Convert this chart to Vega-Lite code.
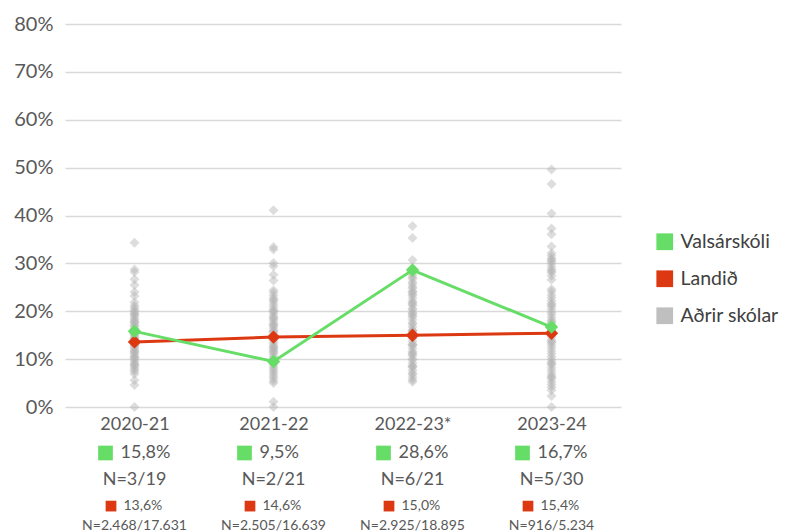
{
  "$schema": "https://vega.github.io/schema/vega-lite/v6.json",
  "padding": {"left": 13, "top": 14, "right": 5, "bottom": 0},
  "background": "white",
  "config": {
    "view": {"stroke": null},
    "font": "Lato",
    "concat": {"spacing": 11}
  },
  "datasets": {
    "schools": [
      {"year": "2020-21", "value": 34.3}, {"year": "2020-21", "value": 28.7}, {"year": "2020-21", "value": 28.2}, {"year": "2020-21", "value": 26.7}, {"year": "2020-21", "value": 25.5}, {"year": "2020-21", "value": 24.0}, {"year": "2020-21", "value": 23.2}, {"year": "2020-21", "value": 21.9}, {"year": "2020-21", "value": 21.2}, {"year": "2020-21", "value": 20.8}, {"year": "2020-21", "value": 20.3}, {"year": "2020-21", "value": 20.0}, {"year": "2020-21", "value": 19.6}, {"year": "2020-21", "value": 19.1}, {"year": "2020-21", "value": 18.7}, {"year": "2020-21", "value": 18.3}, {"year": "2020-21", "value": 17.9}, {"year": "2020-21", "value": 17.5}, {"year": "2020-21", "value": 17.1}, {"year": "2020-21", "value": 16.8}, {"year": "2020-21", "value": 16.4}, {"year": "2020-21", "value": 16.0}, {"year": "2020-21", "value": 15.6}, {"year": "2020-21", "value": 15.2}, {"year": "2020-21", "value": 14.9}, {"year": "2020-21", "value": 14.5}, {"year": "2020-21", "value": 14.1}, {"year": "2020-21", "value": 13.7}, {"year": "2020-21", "value": 13.3}, {"year": "2020-21", "value": 13.0}, {"year": "2020-21", "value": 12.6}, {"year": "2020-21", "value": 12.2}, {"year": "2020-21", "value": 11.8}, {"year": "2020-21", "value": 11.4}, {"year": "2020-21", "value": 11.0}, {"year": "2020-21", "value": 10.6}, {"year": "2020-21", "value": 10.2}, {"year": "2020-21", "value": 9.8}, {"year": "2020-21", "value": 9.4}, {"year": "2020-21", "value": 9.0}, {"year": "2020-21", "value": 8.6}, {"year": "2020-21", "value": 8.2}, {"year": "2020-21", "value": 7.8}, {"year": "2020-21", "value": 7.4}, {"year": "2020-21", "value": 6.9}, {"year": "2020-21", "value": 5.6}, {"year": "2020-21", "value": 4.6}, {"year": "2020-21", "value": 0.0}, {"year": "2020-21", "value": 15.3}, {"year": "2020-21", "value": 12.9}, {"year": "2020-21", "value": 17.7}, {"year": "2020-21", "value": 10.4}, {"year": "2020-21", "value": 19.4}, {"year": "2020-21", "value": 13.5}, {"year": "2020-21", "value": 16.2}, {"year": "2020-21", "value": 11.6}, {"year": "2020-21", "value": 8.8}, {"year": "2020-21", "value": 14.3},
      {"year": "2021-22", "value": 41.1}, {"year": "2021-22", "value": 33.4}, {"year": "2021-22", "value": 32.9}, {"year": "2021-22", "value": 30.1}, {"year": "2021-22", "value": 29.4}, {"year": "2021-22", "value": 27.6}, {"year": "2021-22", "value": 26.4}, {"year": "2021-22", "value": 24.4}, {"year": "2021-22", "value": 23.9}, {"year": "2021-22", "value": 23.3}, {"year": "2021-22", "value": 22.7}, {"year": "2021-22", "value": 22.1}, {"year": "2021-22", "value": 21.5}, {"year": "2021-22", "value": 21.0}, {"year": "2021-22", "value": 20.4}, {"year": "2021-22", "value": 19.9}, {"year": "2021-22", "value": 19.4}, {"year": "2021-22", "value": 18.9}, {"year": "2021-22", "value": 18.4}, {"year": "2021-22", "value": 17.9}, {"year": "2021-22", "value": 17.4}, {"year": "2021-22", "value": 16.9}, {"year": "2021-22", "value": 16.5}, {"year": "2021-22", "value": 16.0}, {"year": "2021-22", "value": 15.5}, {"year": "2021-22", "value": 15.0}, {"year": "2021-22", "value": 14.6}, {"year": "2021-22", "value": 14.1}, {"year": "2021-22", "value": 13.7}, {"year": "2021-22", "value": 13.2}, {"year": "2021-22", "value": 12.8}, {"year": "2021-22", "value": 12.3}, {"year": "2021-22", "value": 11.9}, {"year": "2021-22", "value": 11.4}, {"year": "2021-22", "value": 11.0}, {"year": "2021-22", "value": 10.5}, {"year": "2021-22", "value": 10.1}, {"year": "2021-22", "value": 9.7}, {"year": "2021-22", "value": 9.2}, {"year": "2021-22", "value": 8.8}, {"year": "2021-22", "value": 8.3}, {"year": "2021-22", "value": 7.9}, {"year": "2021-22", "value": 7.4}, {"year": "2021-22", "value": 7.0}, {"year": "2021-22", "value": 6.5}, {"year": "2021-22", "value": 6.0}, {"year": "2021-22", "value": 5.5}, {"year": "2021-22", "value": 5.0}, {"year": "2021-22", "value": 1.1}, {"year": "2021-22", "value": 0.0}, {"year": "2021-22", "value": 20.1}, {"year": "2021-22", "value": 17.2}, {"year": "2021-22", "value": 14.8}, {"year": "2021-22", "value": 12.5}, {"year": "2021-22", "value": 22.4}, {"year": "2021-22", "value": 18.6}, {"year": "2021-22", "value": 15.8}, {"year": "2021-22", "value": 11.7}, {"year": "2021-22", "value": 9.5},
      {"year": "2022-23*", "value": 37.8}, {"year": "2022-23*", "value": 35.3}, {"year": "2022-23*", "value": 30.7}, {"year": "2022-23*", "value": 28.2}, {"year": "2022-23*", "value": 27.6}, {"year": "2022-23*", "value": 27.1}, {"year": "2022-23*", "value": 26.8}, {"year": "2022-23*", "value": 26.1}, {"year": "2022-23*", "value": 25.7}, {"year": "2022-23*", "value": 25.1}, {"year": "2022-23*", "value": 24.8}, {"year": "2022-23*", "value": 24.2}, {"year": "2022-23*", "value": 23.6}, {"year": "2022-23*", "value": 23.3}, {"year": "2022-23*", "value": 22.7}, {"year": "2022-23*", "value": 22.1}, {"year": "2022-23*", "value": 21.8}, {"year": "2022-23*", "value": 21.2}, {"year": "2022-23*", "value": 20.6}, {"year": "2022-23*", "value": 20.3}, {"year": "2022-23*", "value": 19.7}, {"year": "2022-23*", "value": 19.1}, {"year": "2022-23*", "value": 18.8}, {"year": "2022-23*", "value": 18.2}, {"year": "2022-23*", "value": 17.6}, {"year": "2022-23*", "value": 17.3}, {"year": "2022-23*", "value": 16.7}, {"year": "2022-23*", "value": 16.1}, {"year": "2022-23*", "value": 15.8}, {"year": "2022-23*", "value": 15.2}, {"year": "2022-23*", "value": 14.6}, {"year": "2022-23*", "value": 14.3}, {"year": "2022-23*", "value": 13.7}, {"year": "2022-23*", "value": 13.1}, {"year": "2022-23*", "value": 12.8}, {"year": "2022-23*", "value": 12.2}, {"year": "2022-23*", "value": 11.6}, {"year": "2022-23*", "value": 11.3}, {"year": "2022-23*", "value": 10.7}, {"year": "2022-23*", "value": 10.1}, {"year": "2022-23*", "value": 9.8}, {"year": "2022-23*", "value": 9.2}, {"year": "2022-23*", "value": 8.6}, {"year": "2022-23*", "value": 8.3}, {"year": "2022-23*", "value": 7.7}, {"year": "2022-23*", "value": 7.1}, {"year": "2022-23*", "value": 6.8}, {"year": "2022-23*", "value": 6.2}, {"year": "2022-23*", "value": 5.7}, {"year": "2022-23*", "value": 5.3}, {"year": "2022-23*", "value": 19.5}, {"year": "2022-23*", "value": 16.0}, {"year": "2022-23*", "value": 13.0}, {"year": "2022-23*", "value": 21.5}, {"year": "2022-23*", "value": 24.0}, {"year": "2022-23*", "value": 11.0}, {"year": "2022-23*", "value": 8.5},
      {"year": "2023-24", "value": 49.6}, {"year": "2023-24", "value": 46.6}, {"year": "2023-24", "value": 40.4}, {"year": "2023-24", "value": 37.3}, {"year": "2023-24", "value": 36.1}, {"year": "2023-24", "value": 33.5}, {"year": "2023-24", "value": 32.1}, {"year": "2023-24", "value": 31.6}, {"year": "2023-24", "value": 31.0}, {"year": "2023-24", "value": 30.4}, {"year": "2023-24", "value": 29.9}, {"year": "2023-24", "value": 29.3}, {"year": "2023-24", "value": 28.7}, {"year": "2023-24", "value": 28.1}, {"year": "2023-24", "value": 27.4}, {"year": "2023-24", "value": 26.6}, {"year": "2023-24", "value": 24.6}, {"year": "2023-24", "value": 24.1}, {"year": "2023-24", "value": 23.4}, {"year": "2023-24", "value": 22.8}, {"year": "2023-24", "value": 22.2}, {"year": "2023-24", "value": 21.6}, {"year": "2023-24", "value": 21.0}, {"year": "2023-24", "value": 20.4}, {"year": "2023-24", "value": 19.8}, {"year": "2023-24", "value": 19.3}, {"year": "2023-24", "value": 18.7}, {"year": "2023-24", "value": 18.1}, {"year": "2023-24", "value": 17.5}, {"year": "2023-24", "value": 16.9}, {"year": "2023-24", "value": 16.4}, {"year": "2023-24", "value": 15.8}, {"year": "2023-24", "value": 15.2}, {"year": "2023-24", "value": 14.6}, {"year": "2023-24", "value": 14.0}, {"year": "2023-24", "value": 13.4}, {"year": "2023-24", "value": 12.9}, {"year": "2023-24", "value": 12.3}, {"year": "2023-24", "value": 11.7}, {"year": "2023-24", "value": 11.1}, {"year": "2023-24", "value": 10.5}, {"year": "2023-24", "value": 9.9}, {"year": "2023-24", "value": 9.4}, {"year": "2023-24", "value": 8.8}, {"year": "2023-24", "value": 8.2}, {"year": "2023-24", "value": 7.6}, {"year": "2023-24", "value": 7.0}, {"year": "2023-24", "value": 6.5}, {"year": "2023-24", "value": 5.9}, {"year": "2023-24", "value": 5.3}, {"year": "2023-24", "value": 4.7}, {"year": "2023-24", "value": 4.1}, {"year": "2023-24", "value": 3.5}, {"year": "2023-24", "value": 2.3}, {"year": "2023-24", "value": 0.0}, {"year": "2023-24", "value": 30.7}, {"year": "2023-24", "value": 28.4}, {"year": "2023-24", "value": 21.3}, {"year": "2023-24", "value": 17.8}, {"year": "2023-24", "value": 13.7}, {"year": "2023-24", "value": 9.1}, {"year": "2023-24", "value": 6.2}
    ],
    "series": [
      {"year": "2020-21", "series": "Landið", "value": 13.6},
      {"year": "2021-22", "series": "Landið", "value": 14.6},
      {"year": "2022-23*", "series": "Landið", "value": 15.0},
      {"year": "2023-24", "series": "Landið", "value": 15.4},
      {"year": "2020-21", "series": "Valsárskóli", "value": 15.8},
      {"year": "2021-22", "series": "Valsárskóli", "value": 9.5},
      {"year": "2022-23*", "series": "Valsárskóli", "value": 28.6},
      {"year": "2023-24", "series": "Valsárskóli", "value": 16.7}
    ],
    "labels": [
      {"year": "2020-21", "row": "g", "text": "15,8%"},
      {"year": "2020-21", "row": "gn", "text": "N=3/19"},
      {"year": "2020-21", "row": "r", "text": "13,6%"},
      {"year": "2020-21", "row": "rn", "text": "N=2.468/17.631"},
      {"year": "2021-22", "row": "g", "text": "9,5%"},
      {"year": "2021-22", "row": "gn", "text": "N=2/21"},
      {"year": "2021-22", "row": "r", "text": "14,6%"},
      {"year": "2021-22", "row": "rn", "text": "N=2.505/16.639"},
      {"year": "2022-23*", "row": "g", "text": "28,6%"},
      {"year": "2022-23*", "row": "gn", "text": "N=6/21"},
      {"year": "2022-23*", "row": "r", "text": "15,0%"},
      {"year": "2022-23*", "row": "rn", "text": "N=2.925/18.895"},
      {"year": "2023-24", "row": "g", "text": "16,7%"},
      {"year": "2023-24", "row": "gn", "text": "N=5/30"},
      {"year": "2023-24", "row": "r", "text": "15,4%"},
      {"year": "2023-24", "row": "rn", "text": "N=916/5.234"}
    ]
  },
  "vconcat": [
    {
      "width": 556,
      "height": 383,
      "layer": [
        {
          "data": {"name": "schools"},
          "mark": {"type": "point", "shape": "diamond", "filled": true, "size": 100, "color": "#b3b3b3", "opacity": 0.45},
          "encoding": {
            "x": {"field": "year", "type": "ordinal", "scale": {"type": "point", "padding": 0.5, "domain": ["2020-21", "2021-22", "2022-23*", "2023-24"]},
              "axis": {"title": null, "domain": false, "ticks": false, "grid": false, "labelAngle": 0, "labelFontSize": 18, "labelColor": "#595959", "labelPadding": 8}},
            "y": {"field": "value", "type": "quantitative", "scale": {"domain": [0, 80]},
              "axis": {"title": null, "values": [0, 10, 20, 30, 40, 50, 60, 70, 80], "labelExpr": "datum.value + '%'", "domain": false, "ticks": false, "grid": true, "gridColor": "#d9d9d9", "gridWidth": 1.5, "labelFontSize": 20, "labelColor": "#595959", "labelPadding": 12}}
          }
        },
        {
          "data": {"name": "series"},
          "transform": [{"filter": "datum.series === 'Landið'"}],
          "mark": {"type": "line", "strokeWidth": 3, "color": "#dc3912"},
          "encoding": {
            "x": {"field": "year", "type": "ordinal"},
            "y": {"field": "value", "type": "quantitative"}
          }
        },
        {
          "data": {"name": "series"},
          "transform": [{"filter": "datum.series === 'Valsárskóli'"}],
          "mark": {"type": "line", "strokeWidth": 3, "color": "#66dd66"},
          "encoding": {
            "x": {"field": "year", "type": "ordinal"},
            "y": {"field": "value", "type": "quantitative"}
          }
        },
        {
          "data": {"name": "series"},
          "mark": {"type": "point", "shape": "diamond", "filled": true, "size": 180, "opacity": 1},
          "encoding": {
            "x": {"field": "year", "type": "ordinal"},
            "y": {"field": "value", "type": "quantitative"},
            "color": {"field": "series", "type": "nominal",
              "scale": {"domain": ["Valsárskóli", "Landið", "Aðrir skólar"], "range": ["#66dd66", "#dc3912", "#bfbfbf"]},
              "legend": {"title": null, "orient": "none", "legendX": 590, "legendY": 208, "symbolType": "square", "symbolSize": 280, "symbolStrokeWidth": 0, "symbolOpacity": 1, "labelFontSize": 19.5, "labelColor": "#404040", "labelOffset": 6, "rowPadding": 16}}
          }
        }
      ]
    },
    {
      "width": 556,
      "height": 73,
      "data": {"name": "labels"},
      "encoding": {
        "x": {"field": "year", "type": "ordinal", "scale": {"type": "point", "padding": 0.5, "domain": ["2020-21", "2021-22", "2022-23*", "2023-24"]}, "axis": null},
        "y": {"field": "row", "type": "ordinal", "scale": {"type": "point", "padding": 0, "domain": ["g", "s1", "s2", "s3", "gn", "s4", "s5", "s6", "r", "s7", "s8", "rn"]}, "axis": null}
      },
      "layer": [
        {
          "transform": [{"filter": "datum.row === 'g'"}],
          "mark": {"type": "text", "align": "left", "baseline": "middle", "dx": -14, "fontSize": 18, "color": "#595959"},
          "encoding": {"text": {"field": "text"}}
        },
        {
          "transform": [{"filter": "datum.row === 'g'"}],
          "mark": {"type": "point", "shape": "square", "filled": true, "size": 216, "color": "#66dd66", "opacity": 1, "xOffset": -29}
        },
        {
          "transform": [{"filter": "datum.row === 'gn'"}],
          "mark": {"type": "text", "align": "center", "baseline": "middle", "fontSize": 18, "color": "#595959"},
          "encoding": {"text": {"field": "text"}}
        },
        {
          "transform": [{"filter": "datum.row === 'r'"}],
          "mark": {"type": "text", "align": "left", "baseline": "middle", "dx": -11, "fontSize": 14, "color": "#595959"},
          "encoding": {"text": {"field": "text"}}
        },
        {
          "transform": [{"filter": "datum.row === 'r'"}],
          "mark": {"type": "point", "shape": "square", "filled": true, "size": 115, "color": "#dc3912", "opacity": 1, "xOffset": -23.5}
        },
        {
          "transform": [{"filter": "datum.row === 'rn'"}],
          "mark": {"type": "text", "align": "center", "baseline": "middle", "fontSize": 14, "color": "#595959"},
          "encoding": {"text": {"field": "text"}}
        }
      ]
    }
  ]
}
